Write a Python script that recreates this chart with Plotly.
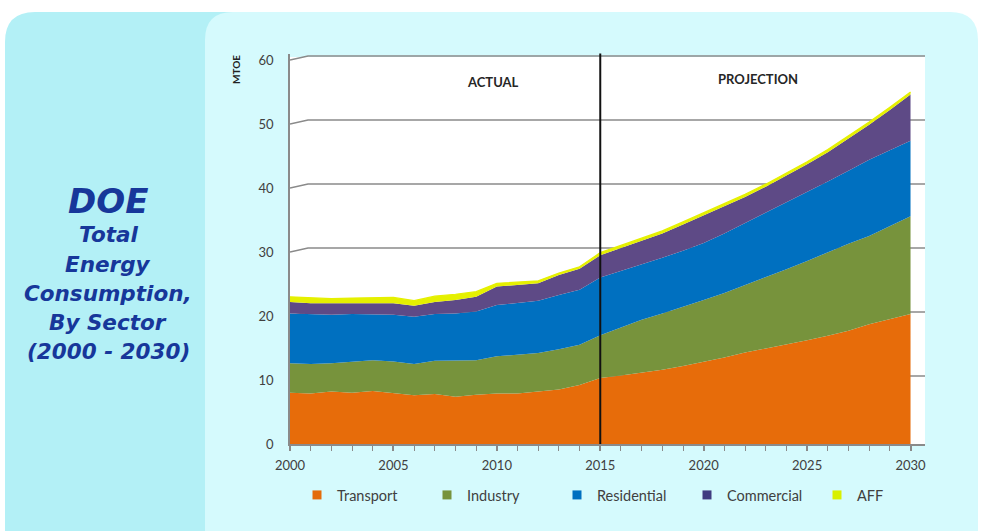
import plotly.graph_objects as go

# ---------------- data (MTOE) ----------------
years = list(range(2000, 2031))
transport = [8.0, 7.9, 8.2, 8.0, 8.3, 8.0, 7.6, 7.8, 7.4, 7.7, 7.9, 7.9, 8.2, 8.5, 9.2,
             10.3, 10.7, 11.1, 11.6, 12.2, 12.8, 13.5, 14.3, 14.9, 15.5, 16.2, 16.9, 17.7, 18.7, 19.5, 20.3]
industry = [4.6, 4.6, 4.4, 4.9, 4.8, 4.9, 4.9, 5.2, 5.7, 5.4, 5.8, 6.0, 6.0, 6.3, 6.3,
            6.7, 7.5, 8.3, 8.8, 9.2, 9.7, 10.1, 10.5, 11.1, 11.8, 12.4, 13.1, 13.6, 13.8, 14.5, 15.3]
residential = [7.8, 7.8, 7.6, 7.4, 7.2, 7.3, 7.4, 7.3, 7.3, 7.6, 8.0, 8.1, 8.2, 8.5, 8.6,
               9.0, 8.8, 8.6, 8.7, 8.8, 8.9, 9.3, 9.7, 10.1, 10.4, 10.7, 11.0, 11.4, 11.9, 11.9, 11.8]
commercial = [1.8, 1.7, 1.8, 1.7, 1.8, 1.8, 1.7, 1.9, 2.1, 2.3, 2.9, 2.8, 2.7, 3.1, 3.3,
              3.5, 3.6, 3.7, 3.8, 4.1, 4.3, 4.2, 4.1, 4.1, 4.2, 4.4, 4.6, 5.0, 5.5, 6.3, 7.2]
aff = [0.8, 0.9, 0.7, 0.8, 0.8, 0.9, 0.8, 0.9, 0.9, 0.8, 0.5, 0.5, 0.4, 0.3, 0.3,
       0.4, 0.4, 0.4, 0.4, 0.4, 0.4, 0.4, 0.4, 0.4, 0.4, 0.4, 0.4, 0.4, 0.4, 0.4, 0.4]

sector_names = ["Transport", "Industry", "Residential", "Commercial", "AFF"]
sector_values = [transport, industry, residential, commercial, aff]
fill_colors = ["#e76c0a", "#77933c", "#0070c0", "#5e4a86", "#e5f000"]
legend_colors = ["#e46c0a", "#77933c", "#0070c0", "#403c80", "#d8f000"]

y_ticks = [0, 10, 20, 30, 40, 50, 60]
x_ticks = [2000, 2005, 2010, 2015, 2020, 2025, 2030]
divider_year = 2015

title_lines = ["Total", "Energy", "Consumption,", "By Sector", "(2000 - 2030)"]

# ---------------- figure geometry ----------------
W, H = 987, 531
def fx(p):
    return p / W
def fy(p):
    return 1 - p / H

x_dom = [fx(290), fx(925)]
y_dom = [fy(444), fy(444 - 6.4 * 61)]

def rounded_rect(x0, y0, x1, y1, r):
    pts = [
        ("M", [(x0 + r, y0)]),
        ("L", [(x1 - r, y0)]),
        ("Q", [(x1, y0), (x1, y0 + r)]),
        ("L", [(x1, y1 - r)]),
        ("Q", [(x1, y1), (x1 - r, y1)]),
        ("L", [(x0 + r, y1)]),
        ("Q", [(x0, y1), (x0, y1 - r)]),
        ("L", [(x0, y0 + r)]),
        ("Q", [(x0, y0), (x0 + r, y0)]),
    ]
    s = ""
    for cmd, ps in pts:
        s += cmd + " " + " ".join(f"{fx(a):.5f},{fy(b):.5f}" for a, b in ps) + " "
    return s + "Z"

fig = go.Figure()

for name, vals, col in zip(sector_names, sector_values, fill_colors):
    fig.add_trace(go.Scatter(
        x=years, y=vals, name=name, stackgroup="one", mode="lines",
        line=dict(width=1.2 if name == "AFF" else 0, color=col),
        fillcolor=col, showlegend=False, hoverinfo="x+y+name"))

# legend entries (small squares as in the original)
for name, col in zip(sector_names, legend_colors):
    fig.add_trace(go.Scatter(
        x=[None], y=[None], name=name, mode="markers",
        marker=dict(symbol="square", size=9, color=col), showlegend=True))

shapes = []
shapes.append(dict(type="path", xref="paper", yref="paper", layer="below",
                   path=rounded_rect(5, 12, 400, 560, 30),
                   fillcolor="#b3f0f6", line=dict(width=0)))
shapes.append(dict(type="path", xref="paper", yref="paper", layer="below",
                   path=rounded_rect(205, 12, 978, 560, 28),
                   fillcolor="#d5fafd", line=dict(width=0)))
shapes.append(dict(type="rect", xref="paper", yref="paper", layer="below",
                   x0=x_dom[0], x1=x_dom[1], y0=y_dom[0], y1=fy(57),
                   fillcolor="white", line=dict(width=0)))
for v in y_ticks[1:]:
    shapes.append(dict(type="path", xref="x", yref="y", layer="below",
                       path=f"M 2000,{v} L 2000.87,{v + 0.62} L 2031,{v + 0.62}",
                       line=dict(color="#8a8a8a", width=1.5)))
shapes.append(dict(type="line", xref="x", yref="y", layer="above",
                   x0=divider_year, x1=divider_year, y0=0, y1=61.3,
                   line=dict(color="#111111", width=2)))

annotations = []
annotations.append(dict(text="DOE", x=fx(108), y=fy(201), xref="paper", yref="paper",
                        showarrow=False, xanchor="center", yanchor="middle",
                        font=dict(family="DejaVu Sans", size=34, color="#17379a",
                                  weight="bold", style="italic")))
for i, t in enumerate(title_lines):
    annotations.append(dict(text=t, x=fx(108), y=fy(235 + 29 * i), xref="paper", yref="paper",
                            showarrow=False, xanchor="center", yanchor="middle",
                            font=dict(family="DejaVu Sans", size=21.5, color="#17379a",
                                      weight="bold", style="italic")))
annotations.append(dict(text="MTOE", x=fx(236), y=fy(70), xref="paper", yref="paper",
                        showarrow=False, textangle=-90, xanchor="center", yanchor="middle",
                        font=dict(family="Lato", size=10, color="#222222", weight="bold")))
annotations.append(dict(text="ACTUAL", x=fx(493), y=fy(82), xref="paper", yref="paper",
                        showarrow=False, xanchor="center", yanchor="middle",
                        font=dict(family="Lato", size=13, color="#262626", weight="bold")))
annotations.append(dict(text="PROJECTION", x=fx(758), y=fy(79), xref="paper", yref="paper",
                        showarrow=False, xanchor="center", yanchor="middle",
                        font=dict(family="Lato", size=13, color="#262626", weight="bold")))

fig.update_layout(
    width=W, height=H, margin=dict(l=0, r=0, t=0, b=0, autoexpand=False),
    paper_bgcolor="white", plot_bgcolor="rgba(0,0,0,0)",
    shapes=shapes, annotations=annotations,
    font=dict(family="Lato", size=13, color="#404040"),
    xaxis=dict(domain=x_dom, range=[2000, 2030.7], tickvals=x_ticks,
               showgrid=False, zeroline=False, showline=True, linecolor="#8a8a8a", linewidth=1.5,
               ticks="outside", ticklen=5, tickcolor="#8a8a8a", tickwidth=1.5,
               minor=dict(dtick=1, tick0=2000, ticks="outside", ticklen=5, tickcolor="#8a8a8a", tickwidth=1.2),
               ticklabelstandoff=4,
               tickfont=dict(family="Lato", size=13, color="#404040"), fixedrange=True),
    yaxis=dict(domain=y_dom, range=[0, 61], tickvals=y_ticks,
               showgrid=False, zeroline=False, showline=True, linecolor="#8a8a8a", linewidth=1.5,
               ticks="", ticklabelstandoff=12,
               tickfont=dict(family="Lato", size=13, color="#404040"), fixedrange=True),
    legend=dict(orientation="h", x=fx(297), y=fy(495), xanchor="left", yanchor="middle",
                entrywidth=85, entrywidthmode="pixels", itemwidth=30, traceorder="normal",
                bgcolor="rgba(0,0,0,0)", font=dict(family="Lato", size=14.5, color="#404040")),
    showlegend=True,
)

fig.write_html("out.html")
